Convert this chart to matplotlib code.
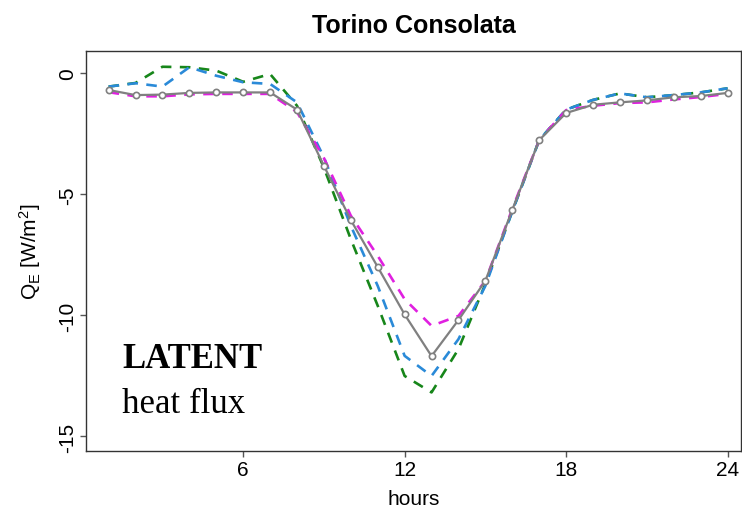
import matplotlib
matplotlib.use("Agg")
import matplotlib.pyplot as plt

plt.rcParams['font.family'] = ['Liberation Sans', 'DejaVu Sans']
plt.rcParams['mathtext.fontset'] = 'custom'
plt.rcParams['mathtext.rm'] = 'Liberation Sans'
plt.rcParams['mathtext.it'] = 'Liberation Sans:italic'
plt.rcParams['axes.unicode_minus'] = False

hours = list(range(1, 25))

# grey line with open circles
obs = [-0.69, -0.90, -0.88, -0.81, -0.79, -0.79, -0.79, -1.50, -3.82, -6.06, -8.00, -9.96,
       -11.68, -10.19, -8.57, -5.64, -2.76, -1.64, -1.30, -1.20, -1.12, -0.99, -0.94, -0.81]
# magenta dashed
mag = [-0.78, -0.95, -0.95, -0.87, -0.85, -0.85, -0.85, -1.60, -3.50, -5.88, -7.54, -9.33,
       -10.43, -10.02, -8.57, -5.60, -2.76, -1.52, -1.34, -1.23, -1.20, -1.08, -0.98, -0.85]
# blue dashed
blue = [-0.55, -0.41, -0.55, 0.25, -0.10, -0.37, -0.44, -1.20, -3.47, -6.30, -8.78, -11.67,
        -12.50, -10.98, -8.78, -5.70, -2.76, -1.50, -1.10, -0.83, -0.99, -0.90, -0.79, -0.62]
# green dashed
green = [-0.55, -0.40, 0.27, 0.25, 0.11, -0.35, -0.03, -1.34, -3.90, -6.85, -9.60, -12.50,
         -13.18, -11.39, -8.70, -5.70, -2.76, -1.50, -1.10, -0.83, -0.99, -0.90, -0.79, -0.62]

fig = plt.figure(figsize=(7.42, 5.10), dpi=100)
ax = fig.add_axes([0.1159, 0.1137, 0.8828, 0.7843])

dash = (4, 3.2)
ax.plot(hours, green, color='#17861a', lw=1.9, dashes=dash)
ax.plot(hours, blue, color='#2a8ad8', lw=1.9, dashes=dash)
ax.plot(hours, mag, color='#e020e0', lw=1.9, dashes=dash)
ax.plot(hours, obs, color='#808080', lw=1.6, marker='o', ms=4.5,
        mfc='white', mec='#808080', mew=1.2)

ax.set_xlim(0.16, 24.5)
ax.set_ylim(-15.6, 0.92)
ax.set_xticks([6, 12, 18, 24])
ax.set_yticks([0, -5, -10, -15])
ax.tick_params(axis='both', labelsize=15, length=4.5, width=1, color='#555555', pad=2)
for lab in ax.get_yticklabels():
    lab.set_rotation(90)
    lab.set_va('center')
for s in ax.spines.values():
    s.set_color('#333333')
    s.set_linewidth(1)

fig.text(0.5573, 1 - 33 / 510, 'Torino Consolata', fontsize=18, fontweight='bold',
         ha='center', va='baseline')
ax.set_xlabel('hours', fontsize=15, va='baseline')
ax.xaxis.set_label_coords(0.5, -0.1325)
ax.set_ylabel(r'Q$_\mathrm{E}$ [W/m$^2$]', fontsize=15, va='center')
ax.yaxis.set_label_coords(-0.0855, 0.5)

fig.text(0.165, 0.2784, 'LATENT', family=['Liberation Serif', 'DejaVu Serif'],
         fontsize=25, fontweight='bold', va='baseline')
fig.text(0.165, 0.190, 'heat flux', family=['Liberation Serif', 'DejaVu Serif'],
         fontsize=25, va='baseline')

fig.savefig('out.png', dpi=100)
